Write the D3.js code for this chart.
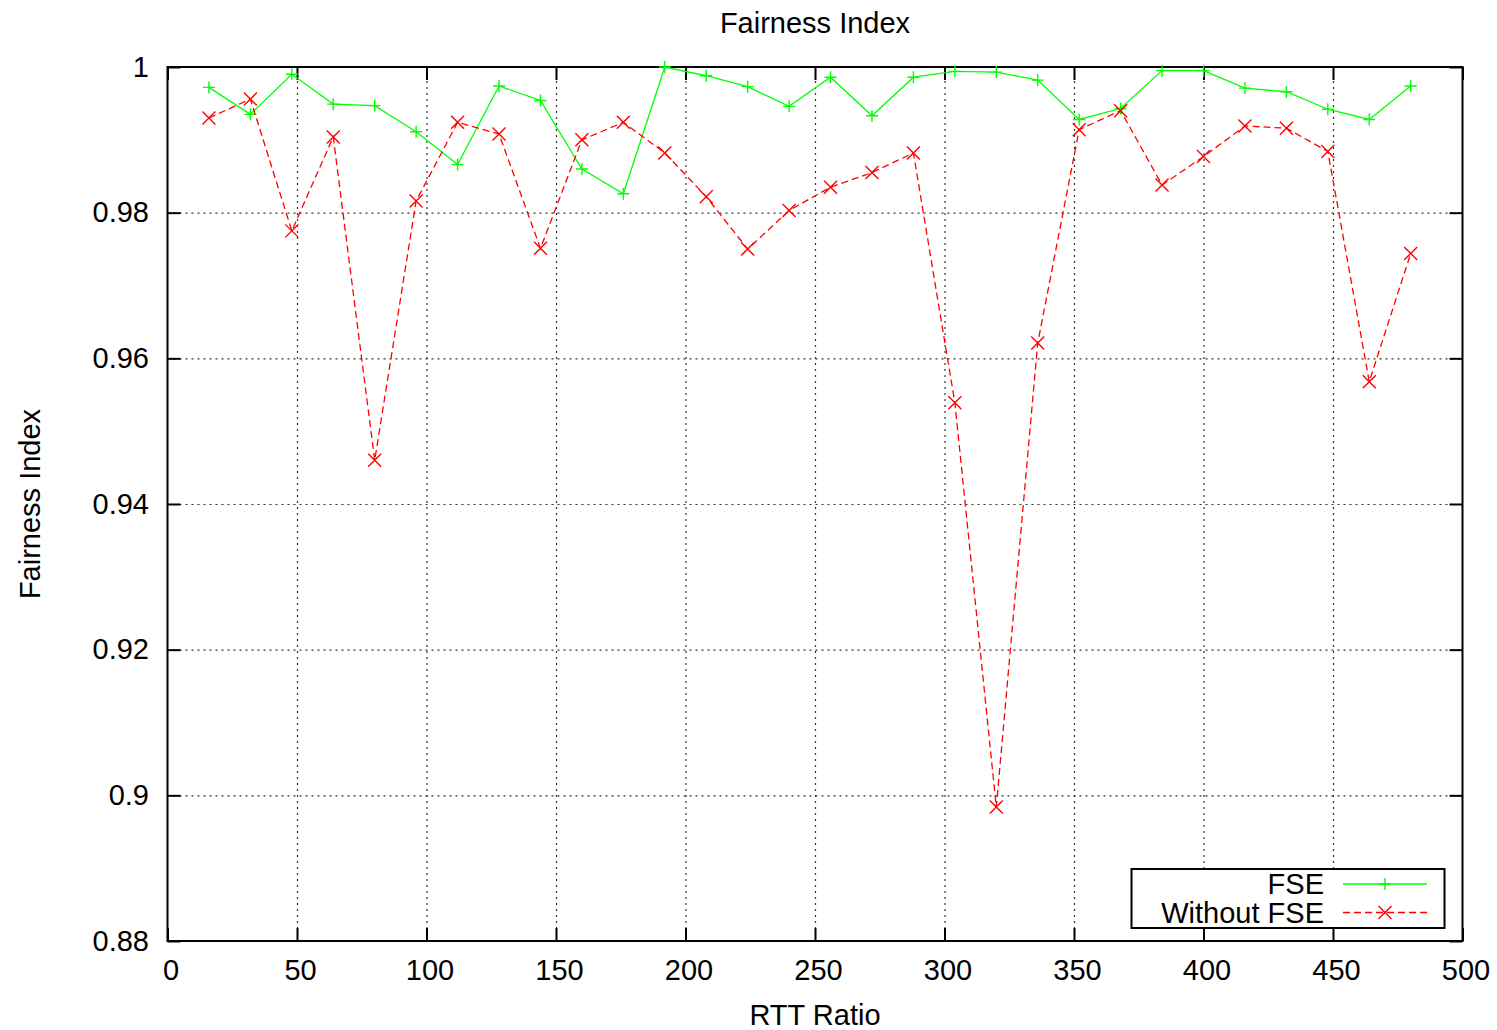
<!DOCTYPE html>
<html>
<head>
<meta charset="utf-8">
<script src="https://cdn.jsdelivr.net/npm/d3@7"></script>
<style>
  html, body { margin: 0; padding: 0; background: #fff; }
  svg { display: block; }
  text { font-family: "Liberation Sans", Arial, Helvetica, sans-serif; fill: #000; }
</style>
</head>
<body>
<svg id="chart" width="1497" height="1030"></svg>
<script>
// RTT ratios tested
const rttRatio = [16, 32, 48, 64, 80, 96, 112, 128, 144, 160, 176, 192, 208, 224, 240,
                  256, 272, 288, 304, 320, 336, 352, 368, 384, 400, 416, 432, 448, 464, 480];

// Jain's fairness index with the FSE enabled
const fairnessFSE = [0.9972, 0.9935, 0.9990, 0.9949, 0.9947, 0.9911, 0.9866, 0.9974, 0.9954, 0.9860,
                     0.9826, 1.0000, 0.9988, 0.9973, 0.9946, 0.9986, 0.9933, 0.9986, 0.9994, 0.9993,
                     0.9982, 0.9928, 0.9943, 0.9995, 0.9995, 0.9971, 0.9966, 0.9942, 0.9928, 0.9974];

// Jain's fairness index without the FSE
const fairnessNoFSE = [0.9930, 0.9956, 0.9775, 0.9904, 0.9460, 0.9816, 0.9924, 0.9908, 0.9751, 0.9900,
                       0.9924, 0.9882, 0.9822, 0.9750, 0.9803, 0.9835, 0.9855, 0.9882, 0.9539, 0.8984,
                       0.9621, 0.9914, 0.9940, 0.9838, 0.9877, 0.9919, 0.9916, 0.9884, 0.9568, 0.9744];

const xTicks = [0, 50, 100, 150, 200, 250, 300, 350, 400, 450, 500];
const yTicks = [0.88, 0.90, 0.92, 0.94, 0.96, 0.98, 1.00];

const seriesNames = ["FSE", "Without FSE"];

const svg = d3.select("#chart");
const plot = { left: 167.5, right: 1462.5, top: 67, bottom: 941 };
const fontSize = 29;

const x = d3.scaleLinear().domain([0, 500]).range([plot.left, plot.right]);
const y = d3.scaleLinear().domain([0.88, 1.0]).range([plot.bottom, plot.top]);

const fmtY = d => String(+d.toFixed(2));

// dotted grid (interior ticks only)
const gridStyle = g => {
  g.select(".domain").remove();
  g.selectAll(".tick line")
    .attr("stroke", "#333")
    .attr("stroke-width", 1.2)
    .attr("stroke-dasharray", "2,4");
};
svg.append("g")
  .attr("transform", `translate(0,${plot.bottom})`)
  .call(d3.axisBottom(x).tickValues(xTicks.slice(1, -1))
    .tickSize(-(plot.bottom - plot.top)).tickFormat(""))
  .call(gridStyle);
svg.append("g")
  .attr("transform", `translate(${plot.left},0)`)
  .call(d3.axisLeft(y).tickValues(yTicks.slice(1, -1))
    .tickSize(-(plot.right - plot.left)).tickFormat(""))
  .call(gridStyle);

// mirrored inward ticks on all four sides
const tickStyle = g => {
  g.select(".domain").remove();
  g.selectAll(".tick line").attr("stroke", "#000").attr("stroke-width", 2);
  g.selectAll(".tick text")
    .style("font-size", fontSize + "px")
    .style("font-family", '"Liberation Sans", Arial, sans-serif');
};
svg.append("g")
  .attr("transform", `translate(0,${plot.bottom})`)
  .call(d3.axisBottom(x).tickValues(xTicks).tickSizeInner(-13).tickSizeOuter(0)
    .tickPadding(18.5).tickFormat(d3.format("d")))
  .call(tickStyle)
  .call(g => g.selectAll(".tick text").attr("dx", 3));
svg.append("g")
  .attr("transform", `translate(0,${plot.top})`)
  .call(d3.axisTop(x).tickValues(xTicks).tickSizeInner(-13).tickSizeOuter(0).tickFormat(""))
  .call(tickStyle);
svg.append("g")
  .attr("transform", `translate(${plot.left},0)`)
  .call(d3.axisLeft(y).tickValues(yTicks).tickSizeInner(-13).tickSizeOuter(0)
    .tickPadding(18.5).tickFormat(fmtY))
  .call(tickStyle);
svg.append("g")
  .attr("transform", `translate(${plot.right},0)`)
  .call(d3.axisRight(y).tickValues(yTicks).tickSizeInner(-13).tickSizeOuter(0).tickFormat(""))
  .call(tickStyle);

// plot frame
svg.append("rect")
  .attr("x", plot.left).attr("y", plot.top)
  .attr("width", plot.right - plot.left).attr("height", plot.bottom - plot.top)
  .attr("fill", "none").attr("stroke", "#000").attr("stroke-width", 2);

// series
const plusPath = "M-6,0H6M0,-6V6";
const crossPath = "M-6.5,-6.5L6.5,6.5M-6.5,6.5L6.5,-6.5";
const series = [
  { name: seriesNames[0], values: fairnessFSE, color: "#00ff00", dash: null, marker: plusPath },
  { name: seriesNames[1], values: fairnessNoFSE, color: "#ff0000", dash: "7,4", marker: crossPath }
];

const line = d3.line().x(d => x(d[0])).y(d => y(d[1]));

series.forEach(s => {
  const pts = rttRatio.map((r, i) => [r, s.values[i]]);
  svg.append("path")
    .datum(pts)
    .attr("d", line)
    .attr("fill", "none")
    .attr("stroke", s.color)
    .attr("stroke-width", 1.3)
    .attr("stroke-dasharray", s.dash);
  svg.append("g").selectAll("path")
    .data(pts).join("path")
    .attr("transform", d => `translate(${x(d[0])},${y(d[1])})`)
    .attr("d", s.marker)
    .attr("stroke", s.color)
    .attr("stroke-width", 1.4)
    .attr("fill", "none");
});

// legend
const legend = svg.append("g");
legend.append("rect")
  .attr("x", 1131.5).attr("y", 869)
  .attr("width", 313).attr("height", 59)
  .attr("fill", "#fff").attr("stroke", "#000").attr("stroke-width", 2);
series.forEach((s, i) => {
  const cy = 884 + i * 28.5;
  legend.append("text")
    .attr("x", 1324).attr("y", cy)
    .attr("dy", "0.35em")
    .attr("text-anchor", "end")
    .style("font-size", fontSize + "px")
    .text(s.name);
  legend.append("line")
    .attr("x1", 1343).attr("x2", 1427)
    .attr("y1", cy).attr("y2", cy)
    .attr("stroke", s.color).attr("stroke-width", 1.3)
    .attr("stroke-dasharray", s.dash);
  legend.append("path")
    .attr("transform", `translate(1385,${cy})`)
    .attr("d", s.marker)
    .attr("stroke", s.color).attr("stroke-width", 1.4).attr("fill", "none");
});

// titles
svg.append("text")
  .attr("x", (plot.left + plot.right) / 2).attr("y", 33)
  .attr("text-anchor", "middle")
  .style("font-size", fontSize + "px")
  .text("Fairness Index");
svg.append("text")
  .attr("x", (plot.left + plot.right) / 2).attr("y", 1025)
  .attr("text-anchor", "middle")
  .style("font-size", fontSize + "px")
  .text("RTT Ratio");
svg.append("text")
  .attr("transform", `translate(40,${(plot.top + plot.bottom) / 2}) rotate(-90)`)
  .attr("text-anchor", "middle")
  .style("font-size", fontSize + "px")
  .text("Fairness Index");
</script>
</body>
</html>
